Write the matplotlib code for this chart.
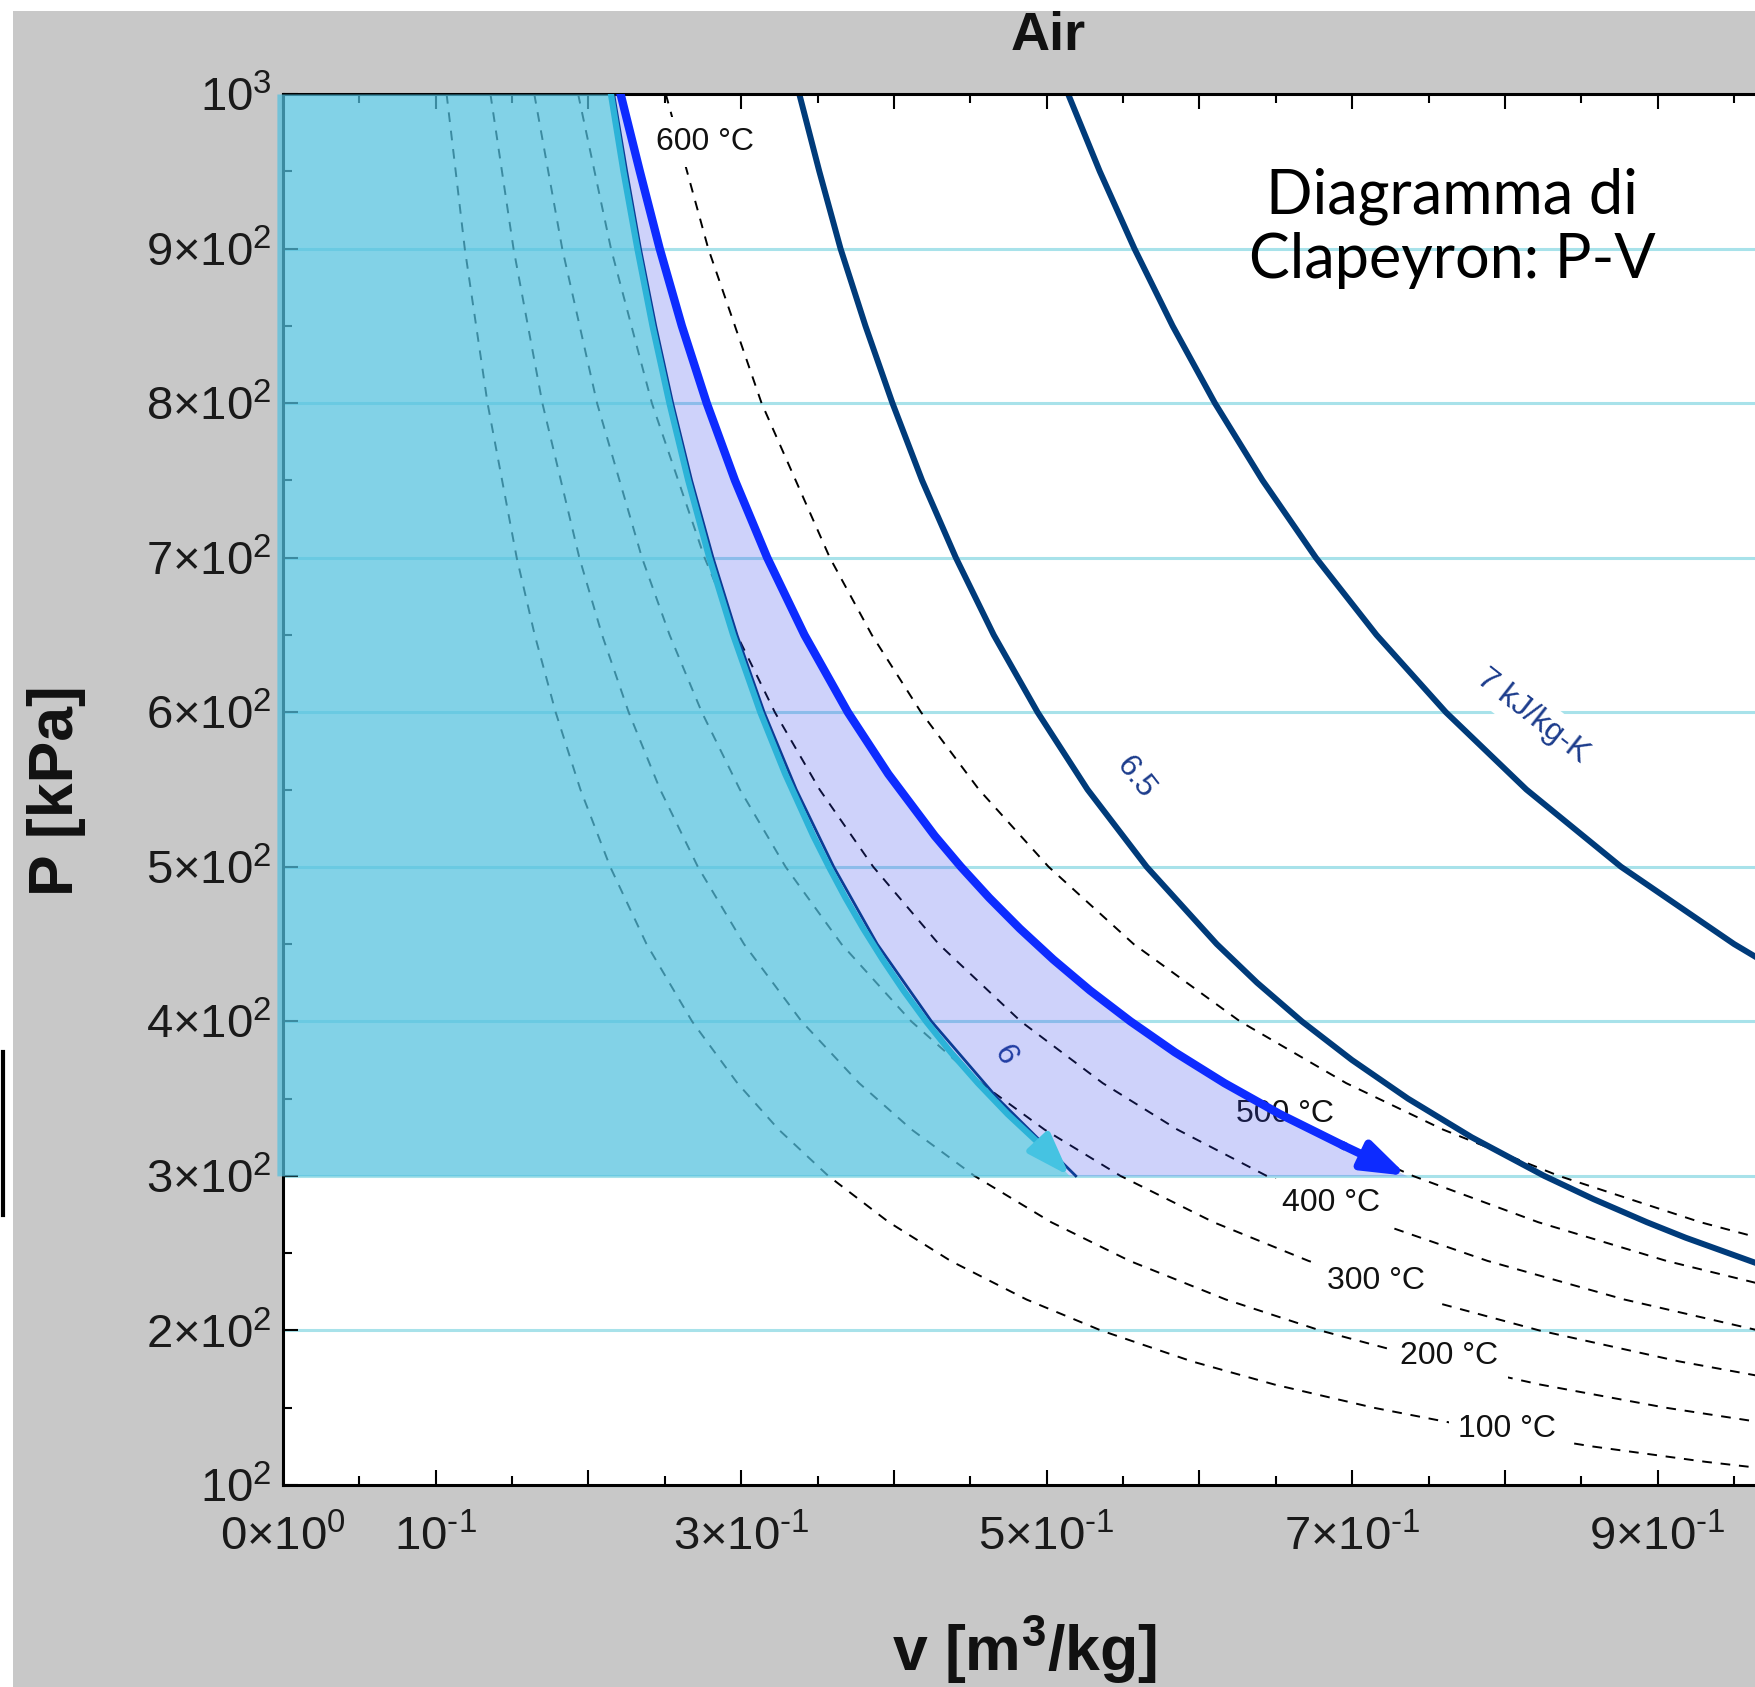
import matplotlib
matplotlib.use("Agg")
import matplotlib.pyplot as plt
from matplotlib.lines import Line2D
from matplotlib.patches import Rectangle

plt.rcParams['font.family'] = ['Liberation Sans', 'DejaVu Sans']
plt.rcParams['mathtext.fontset'] = 'custom'
plt.rcParams['mathtext.rm'] = 'Liberation Sans'
plt.rcParams['mathtext.it'] = 'Liberation Sans'
plt.rcParams['mathtext.bf'] = 'Liberation Sans:bold'
plt.rcParams['mathtext.default'] = 'regular'

# ---------------- data ----------------
# isotherms (dashed) : specific volume v [m3/kg] at pressure P [kPa]
P_iso = [1000, 900, 800, 700, 650, 600, 550, 500, 450, 400, 360, 330, 300,
         270, 245, 220, 200, 180, 165, 150, 137, 125, 115, 105, 100]
v_100C = [0.1071, 0.1190, 0.1339, 0.1530, 0.1648, 0.1785, 0.1947, 0.2142, 0.2380,
          0.2678, 0.2975, 0.3245, 0.3570, 0.3967, 0.4371, 0.4868, 0.5355, 0.5950,
          0.6491, 0.7140, 0.7818, 0.8568, 0.9313, 1.0200, 1.0710]
v_200C = [0.1358, 0.1509, 0.1698, 0.1940, 0.2089, 0.2263, 0.2469, 0.2716, 0.3018,
          0.3395, 0.3772, 0.4115, 0.4527, 0.5030, 0.5543, 0.6173, 0.6790, 0.7544,
          0.8230, 0.9053, 0.9912, 1.0864, 1.1810, 1.2930, 1.3580]
v_300C = [0.1645, 0.1828, 0.2056, 0.2350, 0.2531, 0.2742, 0.2991, 0.3290, 0.3656,
          0.4113, 0.4569, 0.4985, 0.5483, 0.6093, 0.6714, 0.7477, 0.8225, 0.9139,
          0.9970, 1.0967, 1.2007, 1.3160, 1.4300, 1.5670, 1.6450]
v_400C = [0.1932, 0.2147, 0.2415, 0.2760, 0.2972, 0.3220, 0.3513, 0.3864, 0.4293,
          0.4830, 0.5367, 0.5855, 0.6440, 0.7156, 0.7886, 0.8782, 0.9660, 1.0733,
          1.1710, 1.2880, 1.4100, 1.5460, 1.6800, 1.8400, 1.9320]
v_500C = [0.2219, 0.2466, 0.2774, 0.3170, 0.3414, 0.3698, 0.4035, 0.4438, 0.4931,
          0.5548, 0.6164, 0.6724, 0.7397, 0.8219, 0.9057, 1.0086, 1.1095, 1.2330,
          1.3450, 1.4790, 1.6200, 1.7750, 1.9300, 2.1130, 2.2190]
v_600C = [0.2506, 0.2784, 0.3133, 0.3580, 0.3855, 0.4177, 0.4556, 0.5012, 0.5569,
          0.6265, 0.6961, 0.7594, 0.8353, 0.9281, 1.0229, 1.1390, 1.2530, 1.3920,
          1.5190, 1.6710, 1.8290, 2.0050, 2.1790, 2.3870, 2.5060]
iso_series = [v_100C, v_200C, v_300C, v_400C, v_500C, v_600C]
iso_labels = ['100 °C', '200 °C', '300 °C', '400 °C', '500 °C', '600 °C']

# isentropes (solid navy)
P_s = [1000, 950, 900, 850, 800, 750, 700, 650, 600, 550, 500, 450, 425, 400,
       375, 350, 325, 300, 285, 270, 260, 250, 240, 230]
v_s65 = [0.338, 0.3511, 0.365, 0.3813, 0.399, 0.4184, 0.4405, 0.4653, 0.494, 0.5267,
         0.5654, 0.6113, 0.6377, 0.667, 0.6998, 0.7365, 0.7782, 0.8257, 0.8579, 0.893,
         0.9183, 0.9464, 0.9745, 1.006]
v_s7 = [0.514, 0.5347, 0.5574, 0.5824, 0.6101, 0.6413, 0.6762, 0.7159, 0.7613, 0.8140,
        0.876, 0.950, 0.9925, 1.0397, 1.093, 1.152, 1.220, 1.297, 1.350, 1.407,
        1.448, 1.493, 1.540, 1.591]
P_s6 = [1000, 950, 900, 850, 800, 750, 700, 650, 600, 550, 500, 450, 400, 350, 300]
v_s6 = [0.2165, 0.2250, 0.2340, 0.2440, 0.2551, 0.2675, 0.2815, 0.2972, 0.3150,
        0.3360, 0.3605, 0.3890, 0.4245, 0.4680, 0.5190]
s_labels = ['6', '6.5', '7 kJ/kg-K']

# highlighted processes
P_proc = [1000, 950, 900, 850, 800, 750, 700, 650, 600, 560, 520, 500, 480, 460,
          440, 420, 400, 380, 360, 340, 320, 300]
v_isentropic = [0.2147, 0.2229, 0.2320, 0.2419, 0.2530, 0.2653, 0.2791, 0.2947,
                0.3125, 0.3288, 0.3472, 0.3574, 0.3682, 0.3799, 0.3926, 0.4062,
                0.4210, 0.4372, 0.4550, 0.4744, 0.4961, 0.5150]
v_isothermal = [0.2210, 0.2336, 0.2466, 0.2611, 0.2774, 0.2959, 0.3170, 0.3414,
                0.3698, 0.3963, 0.4267, 0.4438, 0.4623, 0.4824, 0.5043, 0.5283,
                0.5548, 0.5839, 0.6164, 0.6526, 0.6934, 0.7360]

P_grid = [200, 300, 400, 500, 600, 700, 800, 900]

x_major = [0, 0.1, 0.2, 0.3, 0.4, 0.5, 0.6, 0.7, 0.8, 0.9]
x_ticklabels = [r'$0{\times}10^{0}$', r'$10^{‐1}$', '', r'$3{\times}10^{‐1}$', '',
                r'$5{\times}10^{‐1}$', '', r'$7{\times}10^{‐1}$', '', r'$9{\times}10^{‐1}$']
x_minor = [0.05, 0.15, 0.25, 0.35, 0.45, 0.55, 0.65, 0.75, 0.85, 0.95]
y_major = [100, 200, 300, 400, 500, 600, 700, 800, 900, 1000]
y_ticklabels = [r'$10^{2}$', r'$2{\times}10^{2}$', r'$3{\times}10^{2}$', r'$4{\times}10^{2}$',
                r'$5{\times}10^{2}$', r'$6{\times}10^{2}$', r'$7{\times}10^{2}$',
                r'$8{\times}10^{2}$', r'$9{\times}10^{2}$', r'$10^{3}$']
y_minor = [150, 250, 350, 450, 550, 650, 750, 850, 950]

# label placements
iso_label_v = [0.8015, 0.7634, 0.7158, 0.6864, 0.6557, 0.276]
iso_label_P = [136.2, 183.2, 231.7, 282.4, 340.3, 968.9]
s_label_v = [0.4725, 0.558, 0.818]
s_label_P = [378, 557.6, 597.4]
s_label_rot = [-62, -52, -38]

# ---------------- figure ----------------
W, H = 1755, 1687
fig = plt.figure(figsize=(W / 100, H / 100), dpi=100, facecolor='white')
fig.add_artist(Rectangle((13 / W, 0), 1 - 13 / W, 1 - 11 / H, transform=fig.transFigure,
                         facecolor='#c8c8c8', edgecolor='none', zorder=-10))
fig.add_artist(Line2D([3 / W, 3 / W], [1 - 1215 / H, 1 - 1052 / H], transform=fig.transFigure,
                      color='black', lw=3))

ax = fig.add_axes([283 / W, 202 / H, 1472 / W, 1391 / H])
ax.set_facecolor('white')
ax.set_xlim(0, 0.9637)
ax.set_ylim(100, 1000)

# grid lines
for p in P_grid:
    ax.axhline(p, color='#a8e2ea', lw=2.2, zorder=1)

# isotherms
for v in iso_series:
    ax.plot(v, P_iso, color='black', lw=1.4, linestyle=(0, (5, 4.5)), zorder=2)

# isentropes
navy = '#003b7a'
ax.plot(v_s6, P_s6, color=navy, lw=2.0, zorder=2.2)
ax.plot(v_s65, P_s, color=navy, lw=4.3, zorder=2.2, solid_joinstyle='round')
ax.plot(v_s7, P_s, color=navy, lw=4.3, zorder=2.2, solid_joinstyle='round')

# labels
for lab, xv, yp in zip(iso_labels, iso_label_v, iso_label_P):
    ax.text(xv, yp, lab, fontsize=23, color='#111111', ha='center', va='center', zorder=3,
            bbox=dict(boxstyle='square,pad=0.3', fc='white', ec='none'))
for lab, xv, yp, r in zip(s_labels, s_label_v, s_label_P, s_label_rot):
    ax.text(xv, yp, lab, fontsize=23, color='#1c3c8c', ha='center', va='center', rotation=r,
            rotation_mode='anchor', zorder=3,
            bbox=dict(boxstyle='square,pad=0.2', fc='white', ec='none'))

# shaded regions
ax.fill_betweenx(P_proc, -0.004, v_isentropic, color='#52c1df', alpha=0.72, lw=0,
                 zorder=4, clip_on=False)
ax.fill_betweenx(P_proc, v_isentropic, v_isothermal, color='#3344ee', alpha=0.24, lw=0,
                 zorder=4)

# processes with arrows
blue = '#0d2bff'
cyan = '#2cb3d8'
ax.plot(v_isothermal[:-1], P_proc[:-1], color=blue, lw=6.0, zorder=5, solid_joinstyle='round')
ax.annotate('', xy=(v_isothermal[-1], P_proc[-1]), xytext=(v_isothermal[-2], P_proc[-2]),
            arrowprops=dict(arrowstyle='-|>,head_length=1.3,head_width=0.45', color=blue,
                            lw=6.0, shrinkA=0, shrinkB=0, mutation_scale=20), zorder=5)
ax.plot(v_isentropic[:-1], P_proc[:-1], color=cyan, lw=4.5, zorder=5, solid_joinstyle='round')
ax.annotate('', xy=(v_isentropic[-1], P_proc[-1]), xytext=(v_isentropic[-2], P_proc[-2]),
            arrowprops=dict(arrowstyle='-|>,head_length=1.3,head_width=0.45', color='#45c3e2',
                            lw=4.5, shrinkA=0, shrinkB=0, mutation_scale=20), zorder=5)

# axes styling
for side in ['left', 'bottom', 'top']:
    ax.spines[side].set_linewidth(2.2)
    ax.spines[side].set_color('black')
ax.spines['right'].set_visible(False)

ax.set_xticks(x_major)
ax.set_xticklabels(x_ticklabels)
ax.set_xticks(x_minor, minor=True)
ax.set_yticks(y_major)
ax.set_yticklabels(y_ticklabels)
ax.set_yticks(y_minor, minor=True)
ax.tick_params(axis='x', which='major', direction='in', length=11, width=1.5, top=True,
               pad=22, labelsize=34, labelcolor='#1a1a1a')
ax.tick_params(axis='x', which='minor', direction='in', length=6.5, width=1.5, top=True)
ax.tick_params(axis='y', which='major', direction='in', length=11, width=1.5, right=False,
               pad=8, labelsize=34, labelcolor='#1a1a1a')
ax.tick_params(axis='y', which='minor', direction='in', length=6.5, width=1.5, right=False)

# texts
fig.text(1048 / W, 1 - 36 / H, 'Air', fontsize=39, fontweight='bold', ha='center', va='center',
         color='#111111')
fig.text(56 / W, 1 - 791 / H, 'P [kPa]', fontsize=45, fontweight='bold', rotation=90,
         ha='center', va='center', color='#111111')
fig.text(1024 / W, 1 - 1671 / H, r'v [m$^{3}$/kg]', fontsize=45, fontweight='bold',
         ha='center', va='baseline', color='#111111')
fig.text(1452 / W, 1 - 228 / H, 'Diagramma di\nClapeyron: P-V', family='Lato', fontsize=44,
         ha='center', va='center', linespacing=1.15, color='black')

fig.savefig('out.png', dpi=100, facecolor=fig.get_facecolor())
